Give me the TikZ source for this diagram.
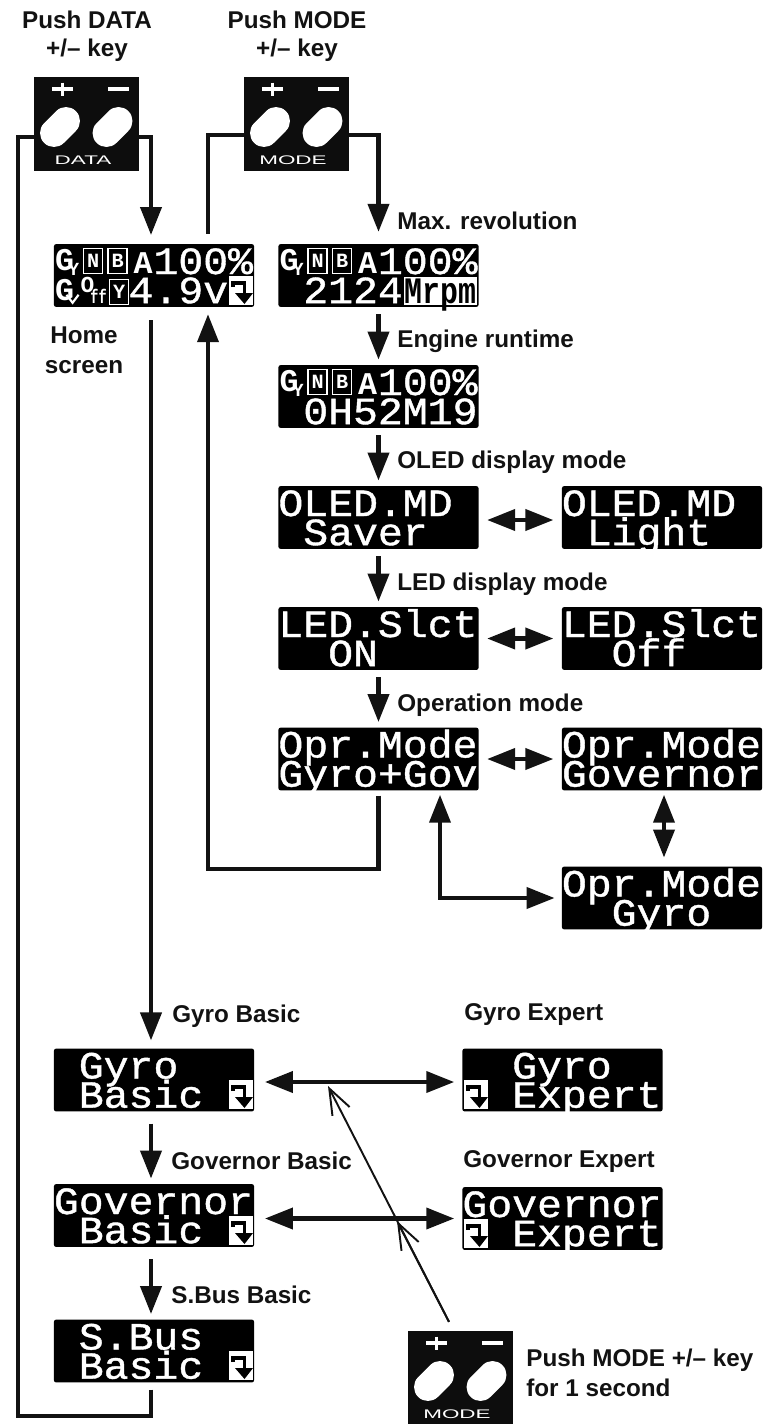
\documentclass[tikz,border=0pt]{standalone}
\usepackage{graphicx}
\usepackage{fontspec}
\setmainfont{Liberation Sans}
\newfontfamily\lcdfont[FakeBold=1]{Liberation Mono}
\newfontfamily\iconfont{Liberation Mono}[BoldFont=Liberation Mono Bold]
\usetikzlibrary{arrows.meta}

% two rows of a display, baselines 30px and 60px below its top edge
\newcommand{\lcdtext}[2]{\vbox to 35.7pt{\offinterlineskip
    \vskip 17pt\hbox to 113.9pt{\smash{\scalebox{1}[0.93]{#1}}\hss}%
    \vskip 16.6pt\hbox to 113.9pt{\smash{\scalebox{1}[0.93]{#2}}\hss}\vss}}

\tikzset{
    screen/.style={fill=black, text=white, rounded corners=1.2pt, inner sep=0pt,
        font=\lcdfont\fontsize{23.6pt}{17pt}\selectfont},
    keybox/.style={fill=black!95, inner sep=0pt, minimum width=59.5pt, minimum height=53.3pt},
    caption/.style={font=\bfseries\fontsize{13.8pt}{16pt}\selectfont, inner sep=0pt, text=black!93},
    link/.style={line width=2.4pt, black!93},
    flow/.style={link, -{Triangle[length=15.9pt,width=11.9pt]}, shorten <=4pt, shorten >=3pt},
    both/.style={link, {Triangle[length=15.9pt,width=11.9pt]}-{Triangle[length=15.9pt,width=11.9pt]}, shorten <=4.7pt, shorten >=4.7pt},
    thinarrow/.style={line width=1.1pt, black!93, -{Straight Barb[length=14.7pt,width=11pt,line width=1.1pt]}},
    smalltext/.style={text=white, inner sep=0pt, font=\iconfont\bfseries\fontsize{#1}{#1}\selectfont},
    % white square with the turn arrow
    turnicon/.pic={
        \fill[white] (0,0) rectangle (24,29);
        \draw[black, line width=2.2pt] (4,11) -- (4,7) -- (15.5,7) -- (15.5,19);
        \fill[black] (6,17) -- (24,17) -- (15.5,28) -- cycle;
    },
    % lettered square of the top row
    framed/.pic={
        \draw[white, line width=0.7pt] (0,0) rectangle (19,25);
        \node[smalltext=11.5pt] (letter) at (9.5,12.5) {#1};
    },
    % first row icons, origin at the top left corner of the display
    statusrow/.pic={
        \node[smalltext=18pt] (g) at (11,16) {G};
        \node[smalltext=10.5pt] (y) at (20,26) {Y};
        \pic (n) at (30,5) {framed=N};
        \pic (b) at (54.5,5) {framed=B};
        \node[smalltext=18pt, anchor=base] (a) at (89.5,30) {A};
    },
    % second row icons of the home screen
    offrow/.pic={
        \node[smalltext=18pt] (g) at (11,46) {G};
        \draw[white, line width=1.2pt] (13,51) -- (19,59) -- (25,51);
        \node[smalltext=13pt] (o) at (34,41) {O};
        \node[smalltext=11pt] (f) at (45,53) {\scalebox{0.7}[1]{ff}};
        \pic (yes) at (56,36) {framed=Y};
    },
    % the key panel with its two buttons, origin at the centre
    keyface/.pic={
        \draw[white, line width=2.2pt] (-34.5,-35) -- (-13.5,-35) (-24,-41.5) -- (-24,-28.5);
        \draw[white, line width=2.2pt] (21.5,-35) -- (42.5,-35);
        \draw[white, line width=15.9pt, line cap=round] (-32.5,9) -- (-20.5,-3);
        \draw[white, line width=15.9pt, line cap=round] (20,9) -- (32,-3);
        \node[text=white, inner sep=0pt, font=\fontsize{7.1pt}{8pt}\selectfont] (name) at (-3.5,36)
            {\scalebox{1.8}[1]{#1}};
    },
}

\begin{document}
\begin{tikzpicture}[x=0.02cm, y=-0.02cm]
    \useasboundingbox (0,0) rectangle (767,1424);

    % keys
    \node[keybox] (datakey) at (86.5,124) {};
    \pic (dataface) at (datakey.center) {keyface=DATA};
    \node[keybox] (modekey) at (296.5,124) {};
    \pic (modeface) at (modekey.center) {keyface=MODE};
    \node[keybox] (pushkey) at (460.5,1378) {};
    \pic (pushface) at (pushkey.center) {keyface=MODE};

    % displays
    \node[screen] (home) at (154,275.5) {\lcdtext{~~~~100\%}{~~~4.9v}};
    \pic (homefirst) at (home.north west) {statusrow};
    \pic (homesecond) at (home.north west) {offrow};
    \pic at (229,276) {turnicon};

    \node[screen] (maxrev) at (378.5,275.5) {\lcdtext{~~~~100\%}{~2124}};
    \pic (maxfirst) at (maxrev.north west) {statusrow};
    \fill[white] (404,277) rectangle (477,305);
    \node[inner sep=0pt, text=black, anchor=base, font=\iconfont\bfseries\fontsize{17pt}{17pt}\selectfont] (mrpm) at (440.5,303)
        {\scalebox{1}[1.25]{Mrpm}};

    \node[screen] (runtime) at (378.5,396.5) {\lcdtext{~~~~100\%}{~0H52M19}};
    \pic (runfirst) at (runtime.north west) {statusrow};

    \node[screen] (oled) at (378.5,517.5) {\lcdtext{OLED.MD}{~Saver}};
    \node[screen] (oledlight) at (662,517.5) {\lcdtext{OLED.MD}{~Light}};
    \node[screen] (led) at (378.5,638.5) {\lcdtext{LED.Slct}{~~ON}};
    \node[screen] (ledoff) at (662,638.5) {\lcdtext{LED.Slct}{~~Off}};
    \node[screen] (opr) at (378.5,759) {\lcdtext{Opr.Mode}{Gyro+Gov}};
    \node[screen] (oprgov) at (662,759) {\lcdtext{Opr.Mode}{Governor}};
    \node[screen] (oprgyro) at (662,898) {\lcdtext{Opr.Mode}{~~Gyro}};

    \node[screen] (gyrobasic) at (154,1080) {\lcdtext{~Gyro}{~Basic}};
    \pic at (229,1080) {turnicon};
    \node[screen] (govbasic) at (154,1215.5) {\lcdtext{Governor}{~Basic}};
    \pic at (229,1216) {turnicon};
    \node[screen] (sbus) at (154,1351) {\lcdtext{~S.Bus}{~Basic}};
    \pic at (229,1351) {turnicon};
    \node[screen] (gyroexp) at (562.5,1080) {\lcdtext{~~Gyro}{~~Expert}};
    \pic at (464,1080) {turnicon};
    \node[screen] (govexp) at (562.5,1218.5) {\lcdtext{Governor}{~~Expert}};
    \pic at (464,1219) {turnicon};

    % captions
    \node[caption, anchor=base] (pushdata) at (87,28) {Push DATA};
    \node[caption, anchor=base] (datakeytxt) at (87,56) {+/-- key};
    \node[caption, anchor=base] (pushmode) at (297,28) {Push MODE};
    \node[caption, anchor=base] (modekeytxt) at (297,56) {+/-- key};
    \node[caption, anchor=base] (hometxt) at (84,343) {Home};
    \node[caption, anchor=base] (screentxt) at (84,373) {screen};
    \node[caption, anchor=base west] (maxtxt) at (397,229) {Max. revolution};
    \node[caption, anchor=base west] (runtxt) at (397,347) {Engine runtime};
    \node[caption, anchor=base west] (oledtxt) at (397,468) {OLED display mode};
    \node[caption, anchor=base west] (ledtxt) at (397,590) {LED display mode};
    \node[caption, anchor=base west] (oprtxt) at (397,711) {Operation mode};
    \node[caption, anchor=base west] (gyrobtxt) at (172,1022) {Gyro Basic};
    \node[caption, anchor=base west] (gyroetxt) at (464,1020) {Gyro Expert};
    \node[caption, anchor=base west] (govbtxt) at (171,1169) {Governor Basic};
    \node[caption, anchor=base west] (govetxt) at (463,1167) {Governor Expert};
    \node[caption, anchor=base west] (sbustxt) at (171,1303) {S.Bus Basic};
    \node[caption, anchor=base west] (pushtxt) at (526,1366) {Push MODE +/-- key};
    \node[caption, anchor=base west] (secondtxt) at (526,1396) {for 1 second};

    % keys to displays
    \draw[flow, shorten <=0pt, shorten >=5pt] ([shift={(0,13)}]datakey.east) -| ([shift={(-3,0)}]home.north);
    \draw[flow, shorten <=0pt, shorten >=6.8pt] ([shift={(0,11)}]modekey.east) -| (maxrev.north);
    \draw[link] ([shift={(0,11)}]modekey.west) -| ([shift={(54,-10)}]home.north);
    \coordinate (loopcorner) at (18,1416);
    \draw[link] ([shift={(-3,7)}]sbus.south) |- (loopcorner) |- ([shift={(0,13)}]datakey.west);

    % mode chain
    \draw[flow] (maxrev.south) -- (runtime.north);
    \draw[flow] (runtime.south) -- (oled.north);
    \draw[flow] (oled.south) -- (led.north);
    \draw[flow] (led.south) -- (opr.north);
    \draw[flow, shorten <=0pt, shorten >=4pt] ([shift={(0,5)}]opr.south) -- ++(0,73) -| ([shift={(54,0)}]home.south);

    % choices
    \draw[both] ([shift={(0,2.5)}]oled.east) -- ([shift={(0,2.5)}]oledlight.west);
    \draw[both] (led.east) -- (ledoff.west);
    \draw[both] (opr.east) -- (oprgov.west);
    \draw[both, shorten <=2.3pt, shorten >=5pt] ([shift={(2,0)}]oprgov.south) -- ([shift={(2,0)}]oprgyro.north);
    \draw[both, shorten <=2.3pt, shorten >=4pt] ([shift={(61.5,0)}]opr.south) |- (oprgyro.west);

    % basic menus
    \draw[flow, shorten <=7.4pt, shorten >=4.5pt] ([shift={(-3,0)}]home.south) -- ([shift={(-3,0)}]gyrobasic.north);
    \draw[flow, shorten <=6.8pt, shorten >=3pt] ([shift={(-3,0)}]gyrobasic.south) -- ([shift={(-3,0)}]govbasic.north);
    \draw[flow, shorten <=6.8pt, shorten >=3pt] ([shift={(-3,0)}]govbasic.south) -- ([shift={(-3,0)}]sbus.north);
    \draw[both, shorten <=6pt, shorten >=4.5pt] ([shift={(0,2)}]gyrobasic.east) -- ([shift={(0,2)}]gyroexp.west);
    \draw[both, shorten <=6pt, shorten >=4.5pt] (govbasic.east |- govexp.west) -- (govexp.west);

    % long press
    \coordinate (pressfrom) at ([shift={(-11.5,-9)}]pushkey.north);
    \coordinate (govtip) at (397,1221);
    \coordinate (gyrotip) at (328,1086);
    \draw[thinarrow] (pressfrom) -- (govtip);
    \draw[thinarrow] (pressfrom) -- (gyrotip);
\end{tikzpicture}
\end{document}
